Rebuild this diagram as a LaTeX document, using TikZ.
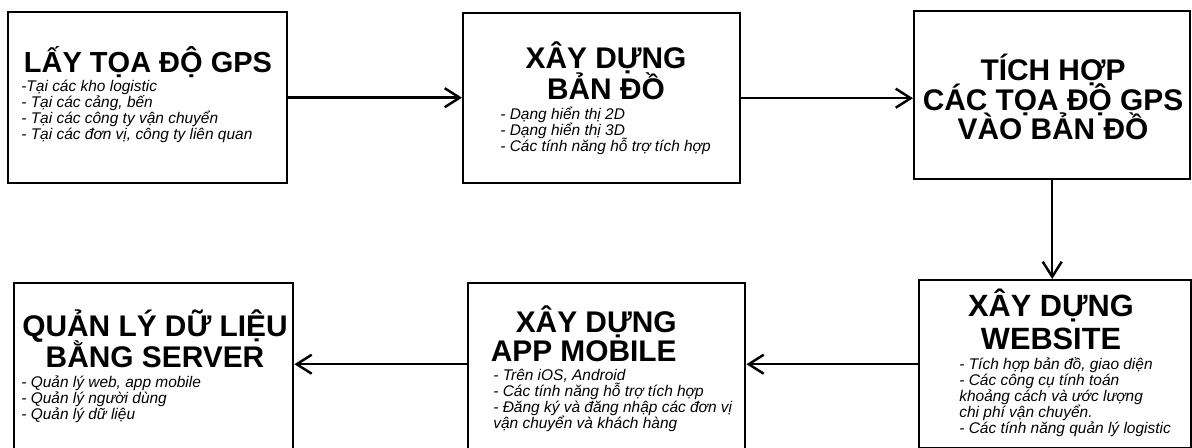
\documentclass[tikz,border=0pt]{standalone}
\usepackage{fontspec}
\setmainfont{Liberation Sans}
\usetikzlibrary{arrows.meta}
\lineskiplimit=-20pt

\tikzset{
  stage/.style={draw, line width=1.4pt, inner sep=0pt, anchor=north west},
  headline/.style={inner sep=0pt, align=center, anchor=base, font=\fontsize{17}{18}\selectfont\bfseries},
  notes/.style={inner sep=0pt, align=left, anchor=base west, font=\fontsize{8.8}{9.2}\selectfont\itshape},
  flow/.style={line width=1.4pt, -{Straight Barb[length=0.3cm,width=0.38cm]}}
}

\begin{document}
\begin{tikzpicture}[x=0.02cm, y=-0.02cm]
		\useasboundingbox (0,0) rectangle (1192,448);
		\clip (0,0) rectangle (1192,448);

		% Top row (text nodes sit on the baseline of their last line)
		\node[stage, minimum width=5.58cm, minimum height=3.42cm] (gps) at (7,11) {};
		\node[headline, font=\fontsize{16.5}{18}\selectfont\bfseries] (gpstitle) at (148,73) {LẤY TỌA ĐỘ GPS};
		\node[notes] (gpsnotes) at (21,140) {-Tại các kho logistic\\ - Tại các cảng, bến\\ - Tại các công ty vận chuyển\\ - Tại các đơn vị, công ty liên quan};

		\node[stage, minimum width=5.54cm, minimum height=3.40cm] (map) at (462,12) {};
		\node[headline] (maptitle) at (606,100) {XÂY DỰNG\\ BẢN ĐỒ};
		\node[notes] (mapnotes) at (500,152) {- Dạng hiển thị 2D\\ - Dạng hiển thị 3D\\ - Các tính năng hỗ trợ tích hợp};

		\node[stage, minimum width=5.52cm, minimum height=3.36cm] (merge) at (913,10) {};
		\node[headline, font=\fontsize{17}{17}\selectfont\bfseries] (mergetitle) at (1053,140) {TÍCH HỢP\\ CÁC TỌA ĐỘ GPS\\ VÀO BẢN ĐỒ};

		% Bottom row
		\node[stage, minimum width=5.44cm, minimum height=3.36cm] (web) at (918,279) {};
		\node[headline, font=\fontsize{17.5}{19}\selectfont\bfseries] (webtitle) at (1051,350) {XÂY DỰNG\\ WEBSITE};
		\node[notes] (webnotes) at (959,434) {- Tích hợp bản đồ, giao diện\\ - Các công cụ tính toán\\ khoảng cách và ước lượng\\ chi phí vận chuyển.\\ - Các tính năng quản lý logistic};

		\node[stage, minimum width=5.54cm, minimum height=3.64cm] (app) at (467,282) {};
		\node[headline, align=right, anchor=base east, font=\fontsize{17}{17}\selectfont\bfseries] (apptitle) at (677,362) {XÂY DỰNG\\ APP MOBILE};
		\node[notes] (appnotes) at (493,429) {- Trên iOS, Android\\ - Các tính năng hỗ trợ tích hợp\\ - Đăng ký và đăng nhập các đơn vị\\ vận chuyển và khách hàng};

		\node[stage, minimum width=5.58cm, minimum height=3.64cm] (server) at (13,282) {};
		\node[headline] (servertitle) at (155,368) {QUẢN LÝ DỮ LIỆU\\ BẰNG SERVER};
		\node[notes] (servernotes) at (21,420) {- Quản lý web, app mobile\\ - Quản lý người dùng\\ - Quản lý dữ liệu};

		% Connectors
		\draw[flow] (gps.east) -- (gps.east -| map.west);
		\draw[flow] (map.east) -- (map.east -| merge.west);
		\draw[flow] (merge.south) -- (merge.south |- web.north);
		\draw[flow] (web.west) -- (web.west -| app.east);
		\draw[flow] (web.west -| app.west) -- (web.west -| server.east);
	\end{tikzpicture}
\end{document}
